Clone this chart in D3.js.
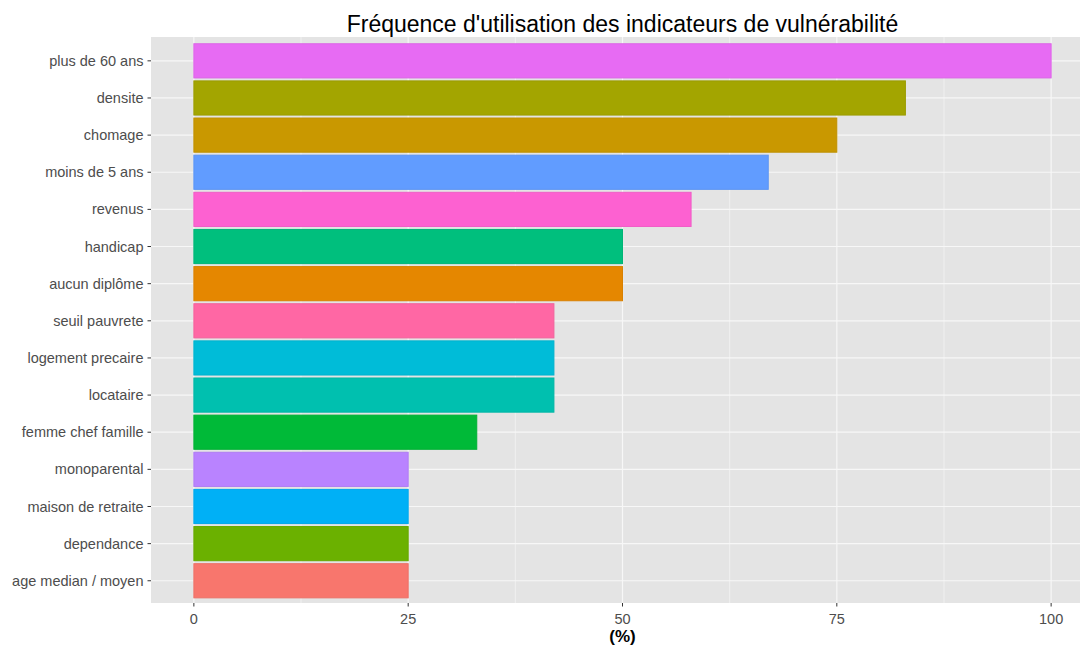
<!DOCTYPE html>
<html><head><meta charset="utf-8">
<script src="https://cdn.jsdelivr.net/npm/d3@7"></script>
<style>body{margin:0;background:#fff;}svg{display:block;font-family:"Liberation Sans",Arial,sans-serif;}</style>
</head><body><svg id="c" width="1080" height="645"></svg>
<script>
const categories = ["plus de 60 ans","densite","chomage","moins de 5 ans","revenus","handicap","aucun diplôme","seuil pauvrete","logement precaire","locataire","femme chef famille","monoparental","maison de retraite","dependance","age median / moyen"];
const values = [100,83,75,67,58,50,50,42,42,42,33,25,25,25,25];
const colors = ["#E76BF3","#A3A500","#C99800","#619CFF","#FD61D1","#00BF7D","#E58700","#FF67A4","#00BCD8","#00C0AF","#00BA38","#B983FF","#00B0F6","#6BB100","#F8766D"];
const xTicks = [0,25,50,75,100];
const xMinor = [12.5,37.5,62.5,87.5];
const title = "Fréquence d'utilisation des indicateurs de vulnérabilité";
const xTitle = "(%)";

const svg = d3.select("#c");
const L = 151, R = 1094, T = 37, B = 603;
const x = d3.scaleLinear().domain([-5,105]).range([L,R]);
const n = categories.length;
const step = (B - T) / (n + 0.2);
const y = d3.scaleBand().domain(categories).range([T + 0.1*step + 0.8, B - 0.1*step + 0.8]).paddingInner(0.08).paddingOuter(0.06);
const yc = c => y(c) + y.bandwidth()/2;

svg.append("rect").attr("x",L).attr("y",T).attr("width",R-L).attr("height",B-T).attr("fill","#E4E4E4");
const g = svg.append("g");
g.selectAll(".minor").data(xMinor).join("line").attr("x1",d=>x(d)).attr("x2",d=>x(d)).attr("y1",T).attr("y2",B).attr("stroke","#F0F0F0").attr("stroke-width",1);
g.selectAll(".major").data(xTicks).join("line").attr("x1",d=>x(d)).attr("x2",d=>x(d)).attr("y1",T).attr("y2",B).attr("stroke","#F7F7F7").attr("stroke-width",1.2);
g.selectAll(".hmaj").data(categories).join("line").attr("x1",L).attr("x2",R).attr("y1",d=>yc(d)).attr("y2",d=>yc(d)).attr("stroke","#F7F7F7").attr("stroke-width",1.2);

svg.selectAll(".bar").data(categories).join("rect")
  .attr("x",x(0)).attr("y",d=>y(d))
  .attr("width",(d,i)=>x(values[i])-x(0)).attr("height",y.bandwidth())
  .attr("fill",(d,i)=>colors[i]).attr("stroke",(d,i)=>d3.color(colors[i]).darker(0.15)).attr("stroke-width",1);

const ya = svg.append("g").attr("transform",`translate(${L},0)`);
ya.selectAll("line").data(categories).join("line").attr("x1",-3.5).attr("x2",0).attr("y1",d=>yc(d)).attr("y2",d=>yc(d)).attr("stroke","#333").attr("stroke-width",1);
ya.selectAll("text").data(categories).join("text").attr("x",-7.5).attr("y",d=>yc(d)).attr("dy","0.35em").attr("text-anchor","end").attr("fill","#4D4D4D").attr("font-size",14.5).text(d=>d);

const xa = svg.append("g").attr("transform",`translate(0,${B})`);
xa.selectAll("line").data(xTicks).join("line").attr("x1",d=>x(d)).attr("x2",d=>x(d)).attr("y1",0).attr("y2",3.5).attr("stroke","#333").attr("stroke-width",1);
xa.selectAll("text").data(xTicks).join("text").attr("x",d=>x(d)).attr("y",21).attr("text-anchor","middle").attr("fill","#4D4D4D").attr("font-size",14.5).text(d=>d);

svg.append("text").attr("x",(L+R)/2).attr("y",642).attr("text-anchor","middle").attr("font-size",17).attr("font-weight","bold").attr("fill","#000").text(xTitle);
svg.append("text").attr("x",(L+R)/2).attr("y",32).attr("text-anchor","middle").attr("font-size",23).attr("fill","#000").text(title);
</script></body></html>
